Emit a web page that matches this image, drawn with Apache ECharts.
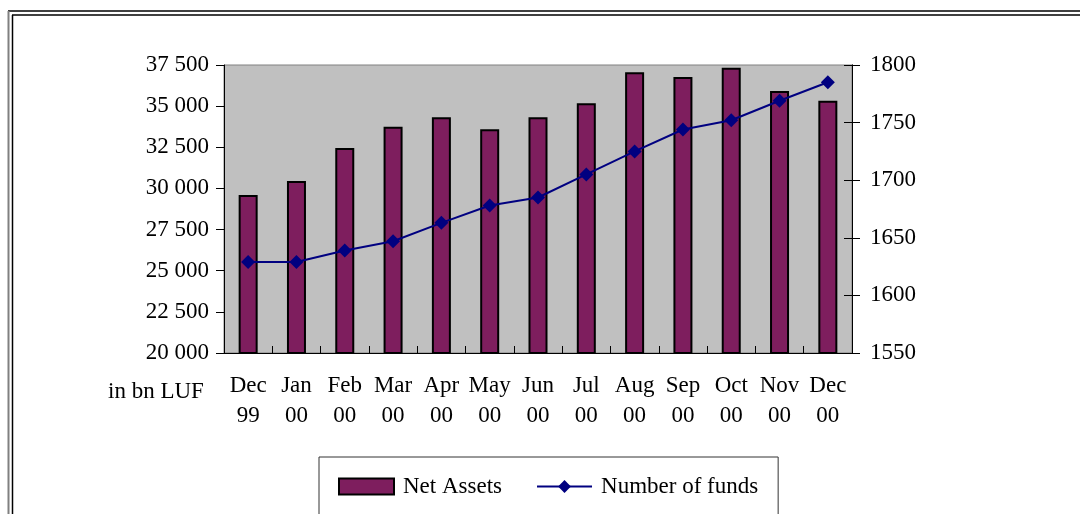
<!DOCTYPE html>
<html>
<head>
<meta charset="utf-8">
<script src="https://cdn.jsdelivr.net/npm/echarts@6/dist/echarts.min.js"></script>
<style>
  html, body { margin: 0; padding: 0; background: #fff; }
  #chart { width: 1080px; height: 514px; }
</style>
</head>
<body>
<div id="chart"></div>
<script>
// months along the bottom
const months = ['Dec 99', 'Jan 00', 'Feb 00', 'Mar 00', 'Apr 00', 'May 00', 'Jun 00',
  'Jul 00', 'Aug 00', 'Sep 00', 'Oct 00', 'Nov 00', 'Dec 00']
// net assets, bn LUF (left axis)
const netAssets = [29600, 30450, 32460, 33750, 34320, 33590, 34320,
  35170, 37060, 36770, 37340, 35920, 35330]
// number of funds (right axis)
const fundCount = [1629, 1629, 1639, 1647, 1663, 1678, 1685,
  1705, 1725, 1744, 1752, 1769, 1785]

const font = 'Liberation Serif, Times New Roman, serif'
const fs = 23
const spaced = v => String(v).replace(/\B(?=(\d{3})+(?!\d))/g, ' ')

const chart = echarts.init(document.getElementById('chart'), null, { renderer: 'canvas' })

const option = {
  animation: false,
  textStyle: { fontFamily: font, color: '#000' },
  grid: {
    left: 224,
    right: 228,
    top: 65,
    bottom: 161,
    show: true,
    backgroundColor: '#C0C0C0',
    borderColor: '#808080',
    borderWidth: 1
  },
  legend: {
    left: 319,
    top: 457,
    padding: [18, 20, 40, 19],
    itemGap: 34,
    itemWidth: 55,
    itemHeight: 16,
    borderColor: '#333',
    borderWidth: 1,
    textStyle: { fontFamily: font, fontSize: fs, color: '#000', padding: [0, 0, 0, 4] },
    data: [
      { name: 'Net Assets', icon: 'rect' },
      { name: 'Number of funds' }
    ]
  },
  xAxis: [
    {
      type: 'category',
      data: months,
      axisLine: { lineStyle: { color: '#000', width: 1 } },
      axisTick: { length: 6, lineStyle: { color: '#000' } },
      axisLabel: {
        formatter: v => v.replace(' ', '\n'),
        fontFamily: font,
        fontSize: fs,
        lineHeight: 30,
        color: '#000',
        margin: 18,
        interval: 0
      }
    },
    {
      // inner half of the crossing ticks
      type: 'category',
      data: months,
      position: 'bottom',
      offset: 0,
      z: 5,
      axisLine: { show: true, lineStyle: { color: '#000' } },
      axisTick: { show: true, inside: true, length: 7, lineStyle: { color: '#000' } },
      axisLabel: { show: false }
    }
  ],
  yAxis: [
    {
      type: 'value',
      min: 20000,
      max: 37500,
      interval: 2500,
      position: 'left',
      axisLine: { show: true, lineStyle: { color: '#000' } },
      axisTick: { show: true, length: 8, lineStyle: { color: '#000' } },
      splitLine: { show: false },
      axisLabel: {
        formatter: spaced,
        fontFamily: font,
        fontSize: fs,
        color: '#000',
        margin: 15
      }
    },
    {
      type: 'value',
      min: 1550,
      max: 1800,
      interval: 50,
      position: 'right',
      axisLine: { show: true, lineStyle: { color: '#000' } },
      axisTick: { show: true, length: 8, lineStyle: { color: '#000' } },
      splitLine: { show: false },
      axisLabel: {
        formatter: v => String(v),
        fontFamily: font,
        fontSize: fs,
        color: '#000',
        margin: 18
      }
    },
    {
      // inner half of the crossing ticks on the right
      type: 'value',
      min: 1550,
      max: 1800,
      interval: 50,
      position: 'right',
      offset: 0,
      z: 5,
      axisLine: { show: true, lineStyle: { color: '#000' } },
      axisTick: { show: true, inside: true, length: 8, lineStyle: { color: '#000' } },
      splitLine: { show: false },
      axisLabel: { show: false }
    }
  ],
  series: [
    {
      name: 'Net Assets',
      type: 'bar',
      yAxisIndex: 0,
      data: netAssets,
      barWidth: 19,
      itemStyle: { color: '#7E1E5E', borderColor: '#000', borderWidth: 2 }
    },
    {
      name: 'Number of funds',
      type: 'line',
      yAxisIndex: 1,
      data: fundCount,
      symbol: 'diamond',
      symbolSize: 14,
      lineStyle: { color: '#000080', width: 2 },
      itemStyle: { color: '#000080' }
    }
  ],
  graphic: [
    // double frame round the chart
    { type: 'line', shape: { x1: 8, y1: 11, x2: 1080, y2: 11 }, style: { stroke: '#000', lineWidth: 1.5 } },
    { type: 'line', shape: { x1: 12, y1: 15, x2: 1080, y2: 15 }, style: { stroke: '#000', lineWidth: 1.5 } },
    { type: 'line', shape: { x1: 8.5, y1: 11, x2: 8.5, y2: 514 }, style: { stroke: '#808080', lineWidth: 2 } },
    { type: 'line', shape: { x1: 12.5, y1: 15, x2: 12.5, y2: 514 }, style: { stroke: '#000', lineWidth: 1.5 } },
    {
      type: 'text',
      left: 108,
      top: 380,
      style: { text: 'in bn LUF', fontFamily: font, fontSize: fs, fill: '#000' }
    }
  ]
}

chart.setOption(option)
</script>
</body>
</html>
